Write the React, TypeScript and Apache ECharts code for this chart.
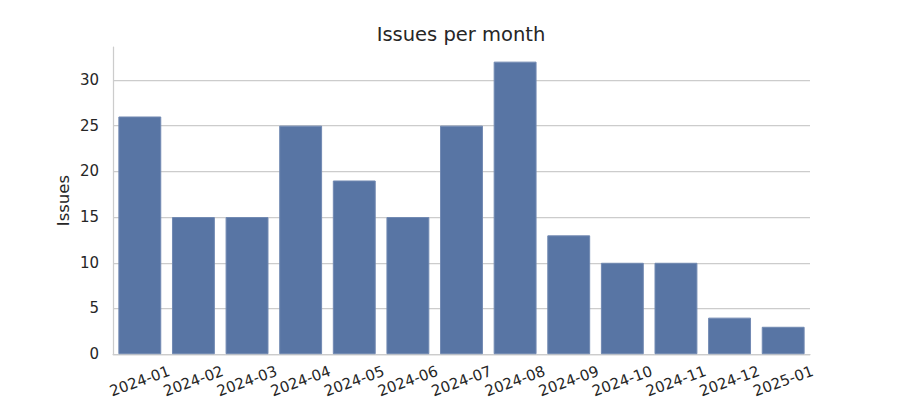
import React, { useEffect, useRef } from "react";
import * as echarts from "echarts";

const months = [
  "2024-01", "2024-02", "2024-03", "2024-04", "2024-05", "2024-06", "2024-07",
  "2024-08", "2024-09", "2024-10", "2024-11", "2024-12", "2025-01",
];
const issues = [26, 15, 15, 25, 19, 15, 25, 32, 13, 10, 10, 4, 3];

export default function App() {
  const ref = useRef<HTMLDivElement>(null);
  useEffect(() => {
    document.body.style.margin = "0";
    const chart = echarts.init(ref.current!, null, { renderer: "svg" });
    const font = "DejaVu Sans";
    chart.setOption({
      animation: false,
      textStyle: { fontFamily: font },
      title: {
        text: "Issues per month",
        left: 456,
        top: 19,
        textAlign: "center",
        textStyle: { fontFamily: font, fontSize: 19.5, fontWeight: "normal", color: "#262626" },
      },
      grid: { left: 113, right: 90, top: 47, bottom: 43 },
      xAxis: {
        type: "category",
        data: months,
        axisLine: { show: true, lineStyle: { color: "#cccccc", width: 1.25 } },
        axisTick: { show: false },
        axisLabel: {
          rotate: 20,
          align: "center",
          verticalAlign: "middle",
          margin: 27,
          interval: 0,
          fontFamily: font,
          fontSize: 15,
          color: "#262626",
        },
      },
      yAxis: {
        type: "value",
        min: 0,
        max: 33.6,
        interval: 5,
        name: "Issues",
        nameLocation: "middle",
        nameGap: 41,
        nameMoveOverlap: false,
        nameTextStyle: { fontFamily: font, fontSize: 16.5, color: "#262626" },
        axisLine: { show: true, lineStyle: { color: "#cccccc", width: 1.25 } },
        axisTick: { show: false },
        axisLabel: {
          fontFamily: font,
          fontSize: 15,
          color: "#262626",
          margin: 14,
          showMaxLabel: false,
          formatter: (v: number) => (v % 5 === 0 ? String(v) : ""),
        },
        splitLine: {
          show: true,
          showMaxLine: false,
          lineStyle: { color: "#cccccc", width: 1.25 },
        },
      },
      series: [
        {
          type: "bar",
          data: issues,
          barWidth: "80%",
          itemStyle: { color: "#5875a4", borderColor: "#7189b2", borderWidth: 1 },
        },
      ],
    });
    return () => chart.dispose();
  }, []);
  return <div ref={ref} style={{ width: 900, height: 400 }} />;
}
